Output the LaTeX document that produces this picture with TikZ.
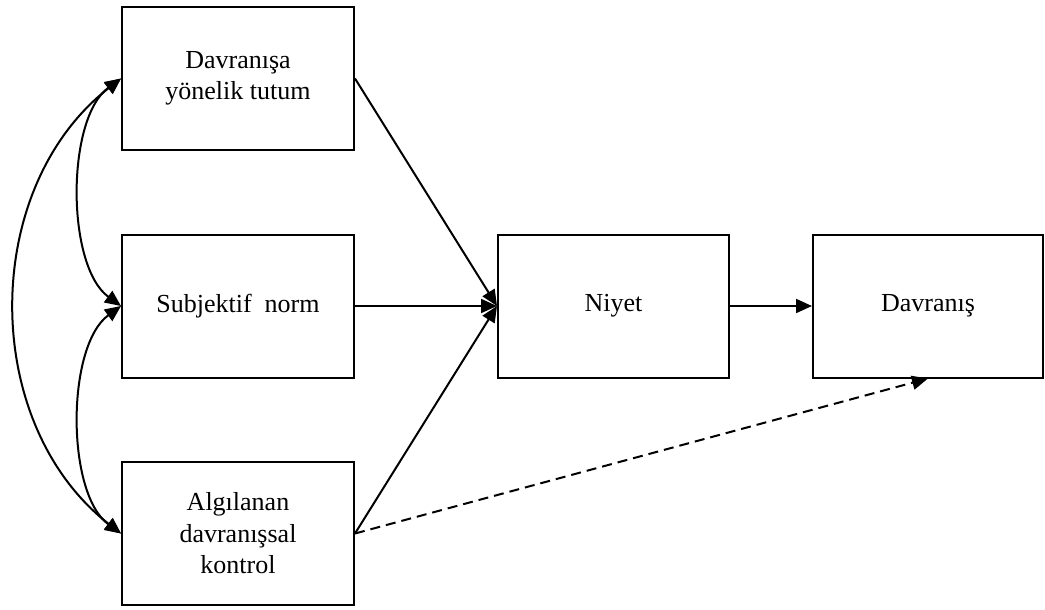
\documentclass[tikz,border=0pt]{standalone}
\usepackage{fontspec}
\setmainfont{Liberation Serif}
\usetikzlibrary{arrows.meta}
\begin{document}
\begin{tikzpicture}[x=1pt,y=-1pt,
  box/.style={draw,line width=2pt,minimum height=143pt,align=center,
    font=\fontsize{26}{31.5}\selectfont,inner sep=0pt},
  link/.style={line width=2pt,-{Triangle[length=16pt,width=14pt]}},
  dlink/.style={line width=2pt,{Triangle[length=16pt,width=14pt]}-{Triangle[length=16pt,width=14pt]}}]
\useasboundingbox (0,0) rectangle (1045,610);
% predictors
\node[box,minimum width=232pt] (att) at (238,78.5) {Davranışa\\yönelik tutum};
\node[box,minimum width=232pt] (sn)  at (238,306) {Subjektif\ \ norm};
\node[box,minimum width=232pt] (pbc) at (238,533.5) {Algılanan\\davranışsal\\kontrol};
% intention and behaviour
\node[box,minimum width=231pt] (int) at (613.5,306) {Niyet};
\node[box,minimum width=230pt] (beh) at (928,306) {Davranış};
% paths
\draw[link] (att.east) -- (int.west);
\draw[link] (sn.east) -- (int.west);
\draw[link] (pbc.east) -- (int.west);
\draw[link] (int.east) -- (beh.west);
\draw[link,dash pattern=on 10pt off 6pt] (pbc.east) -- (beh.south);
% correlations among predictors
\draw[dlink] (att.west) .. controls +(-55,40) and +(-55,-40) .. (sn.west);
\draw[dlink] (sn.west) .. controls +(-55,40) and +(-55,-40) .. (pbc.west);
\draw[dlink] (att.west) .. controls +(-141,110) and +(-141,-110) .. (pbc.west);
\end{tikzpicture}
\end{document}
